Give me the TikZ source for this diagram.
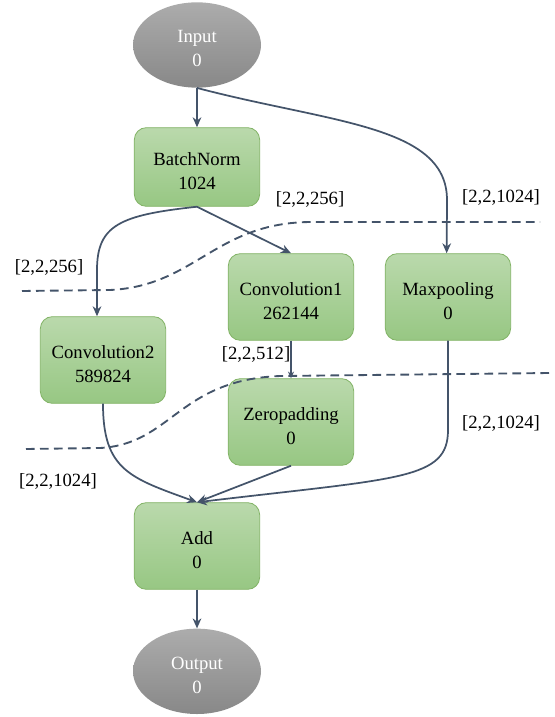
\documentclass[tikz,border=0pt]{standalone}
\usepackage{fontspec}
\setmainfont{Liberation Serif}
\usepackage{xcolor}
\usetikzlibrary{arrows.meta,positioning,shapes.geometric}

\definecolor{edgeblue}{RGB}{68,84,106}
\definecolor{layertop}{RGB}{186,217,172}
\definecolor{layerbot}{RGB}{151,199,131}
\definecolor{layerline}{RGB}{130,179,102}
\definecolor{iotop}{RGB}{172,172,172}
\definecolor{iobot}{RGB}{136,136,136}

\begin{document}
\begin{tikzpicture}[
    x=0.75pt, y=-0.75pt,
    font=\fontsize{14}{18}\selectfont,
    every node/.style = {align=center},
    layer/.style  = {draw=layerline, rectangle, rounded corners=9pt,
                     minimum width=94pt, minimum height=65pt,
                     top color=layertop, bottom color=layerbot,
                     line width=0.6pt, inner sep=2pt,
                     text height=33pt, text depth=0pt},
    io/.style     = {ellipse, minimum width=96pt, minimum height=64pt,
                     top color=iotop, bottom color=iobot, text=white,
                     inner sep=1pt, text height=32.5pt, text depth=0pt},
    arr/.style    = {-{Stealth[length=7.5pt,width=6.5pt]}, draw=edgeblue, line width=1.3pt},
    cut/.style    = {draw=edgeblue, dash pattern=on 6.5pt off 4pt, line width=1.4pt},
    shp/.style    = {inner sep=1pt},
]
\useasboundingbox (0,0) rectangle (554,717);

% ---------------- Nodes ----------------
\node[io] (in) at (197,45) {Input\\0};
\node[layer, minimum height=59pt] (bn) at (197,167) {BatchNorm\\1024};
\node[layer] (c1) at (291,297) {Convolution1\\262144};
\node[layer] (mp) at (448,297) {Maxpooling\\0};
\node[layer] (c2) at (103,360) {Convolution2\\589824};
\node[layer] (zp) at (291,422) {Zeropadding\\0};
\node[layer] (add) at (197,546) {Add\\0};
\node[io, below=29pt of add] (out) {Output\\0};

% ---------------- Cut lines ----------------
\draw[cut] (22,291) -- (110,290) .. controls (195,286) and (215,223) .. (310,222) -- (540,222);
\draw[cut] (26,449) -- (100,448) .. controls (172,444) and (178,380) .. (280,376) -- (549,373);

% ---------------- Edges ----------------
\draw[arr] (in.south) -- (bn.north);
\draw[arr] (in.south) .. controls (330,123) and (447,125) .. (447,200) -- ([xshift=-1pt]mp.north);
\draw[arr] (bn.south) -- (c1.north);
\draw[arr] (bn.south) .. controls (120,215) and (97,225) .. (97,270) -- ([xshift=-4.5pt]c2.north);
\draw[arr, line width=0.9pt, -{Stealth[length=5pt,width=4.5pt]}] (c1.south) -- (zp.north);
\draw[arr] (c2.south) .. controls (103,470) and (130,478) .. (add.north);
\draw[arr] (zp.south) -- (add.north);
\draw[arr] (mp.south) -- (448,430) .. controls (448,480) and (400,478) .. (add.north);
\draw[arr] (add.south) -- (out.north);

% ---------------- Shape labels ----------------
\node[shp] (sbc1) at (310,199) {[2,2,256]};
\node[shp] (smp)  at (501,197) {[2,2,1024]};
\node[shp] (sbc2) at (49,267)  {[2,2,256]};
\node[shp] (szp)  at (256,354) {[2,2,512]};
\node[shp] (smpa) at (501,423) {[2,2,1024]};
\node[shp] (sc2a) at (58,481)  {[2,2,1024]};

\end{tikzpicture}
\end{document}
